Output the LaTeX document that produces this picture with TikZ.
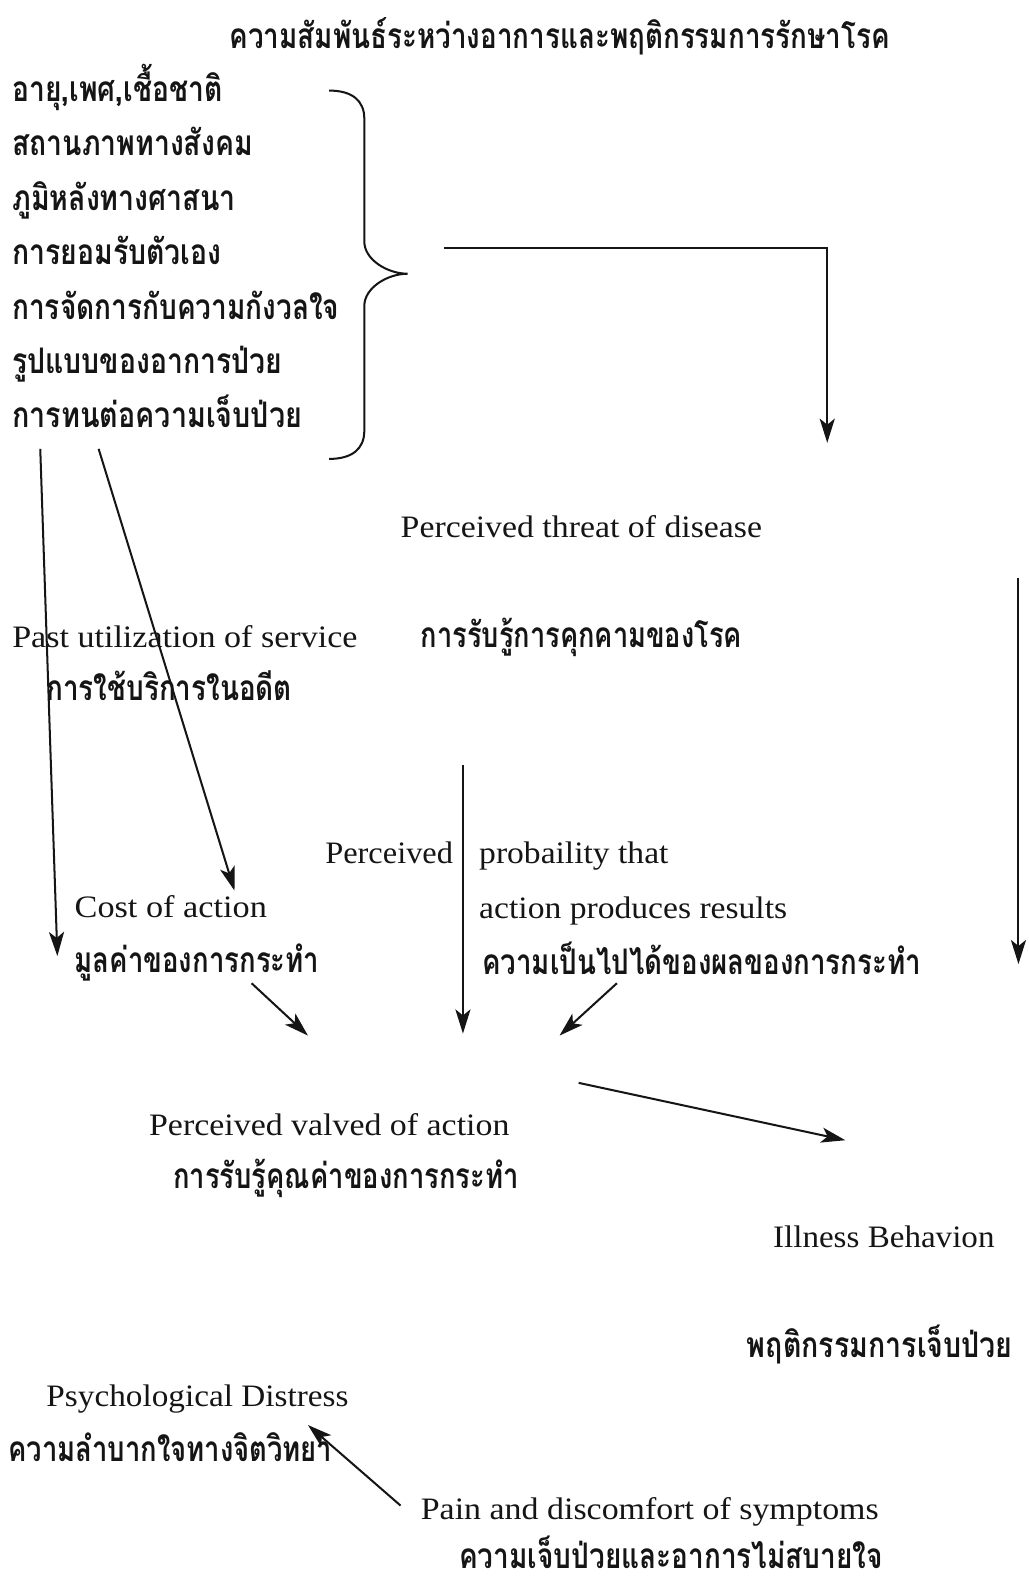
\documentclass[tikz,border=0pt]{standalone}
\usepackage{fontspec}
\setmainfont{Liberation Serif}
\newfontfamily\thaifont[Script=Thai]{Loma}
\usetikzlibrary{arrows.meta}
\newcommand{\fitw}[2]{\resizebox{#1pt}{\height}{#2}}
\definecolor{ink}{HTML}{151515}
\begin{document}
\begin{tikzpicture}[x=1pt,y=-1pt,
  en/.style={anchor=base west, inner sep=0pt, text=ink, font=\fontsize{31}{31}\selectfont},
  th/.style={anchor=base west, inner sep=0pt, text=ink, font=\thaifont\bfseries\fontsize{35}{35}\selectfont},
  arr/.style={draw=ink, line width=2pt, -{Stealth[length=24pt,width=15pt,inset=6pt]}},
  plain/.style={draw=ink, line width=2pt}]
\useasboundingbox[fill=white] (0,0) rectangle (1022,1568);

% title
\node[th] (title) at (228,48) {\fitw{656}{ความสัมพันธ์ระหว่างอาการและพฤติกรรมการรักษาโรค}};

% factor list
\node[th] (f1) at (12,101) {\fitw{209}{อายุ,เพศ,เชื้อชาติ}};
\node[th] (f2) at (12,155) {\fitw{239}{สถานภาพทางสังคม}};
\node[th] (f3) at (12,209) {\fitw{222}{ภูมิหลังทางศาสนา}};
\node[th] (f4) at (12,263) {\fitw{208}{การยอมรับตัวเอง}};
\node[th] (f5) at (12,317) {\fitw{325}{การจัดการกับความกังวลใจ}};
\node[th] (f6) at (12,371) {\fitw{268}{รูปแบบของอาการป่วย}};
\node[th] (f7) at (12,425) {\fitw{288}{การทนต่อความเจ็บป่วย}};

% brace
\draw[plain] (327,90) .. controls (350,90) and (362,100) .. (362,118) -- (362,240)
  .. controls (362,258) and (385,272) .. (405,272)
  .. controls (385,272) and (362,286) .. (362,304) -- (362,428)
  .. controls (362,446) and (350,456) .. (327,456);

% threat
\node[en] (threat) at (398,534) {\fitw{359}{Perceived threat of disease}};
\node[th] (threatth) at (418,643) {\fitw{319}{การรับรู้การคุกคามของโรค}};

% past utilization
\node[en] (past) at (12,643) {\fitw{343}{Past utilization of service}};
\node[th] (pastth) at (46,696) {\fitw{244}{การใช้บริการในอดีต}};

% cost
\node[en] (cost) at (74,912) {\fitw{191}{Cost of action}};
\node[th] (costth) at (74,966) {\fitw{243}{มูลค่าของการกระทำ}};

% probability
\node[en] (perc) at (323,858) {\fitw{127}{Perceived}};
\node[en] (prob1) at (476,858) {\fitw{188}{probaility that}};
\node[en] (prob2) at (476,913) {\fitw{306}{action produces results}};
\node[th] (probth) at (479,968) {\fitw{436}{ความเป็นไปได้ของผลของการกระทำ}};

% value
\node[en] (value) at (148,1128) {\fitw{358}{Perceived valved of action}};
\node[th] (valueth) at (172,1181) {\fitw{343}{การรับรู้คุณค่าของการกระทำ}};

% illness behaviour
\node[en] (ill) at (768,1240) {\fitw{220}{Illness Behavion}};
\node[th] (illth) at (742,1349) {\fitw{264}{พฤติกรรมการเจ็บป่วย}};

% distress
\node[en] (psy) at (46,1398) {\fitw{300}{Psychological Distress}};
\node[th] (psyth) at (8,1452) {\fitw{322}{ความลำบากใจทางจิตวิทยา}};

% pain
\node[en] (pain) at (418,1510) {\fitw{455}{Pain and discomfort of symptoms}};
\node[th] (painth) at (456,1559) {\fitw{421}{ความเจ็บป่วยและอาการไม่สบายใจ}};

% connector end points
\coordinate (b1) at (441,246);
\coordinate (b2) at (822,246);
\coordinate (b3) at (822,440);
\coordinate (l1) at (40,446);
\coordinate (l2) at (57,950);
\coordinate (d1) at (98,446);
\coordinate (d2) at (233,885);
\coordinate (c1) at (250,977);
\coordinate (c2) at (306,1029);
\coordinate (p1) at (460,760);
\coordinate (p2) at (460,1027);
\coordinate (q1) at (613,977);
\coordinate (q2) at (556,1029);
\coordinate (r1) at (1012,574);
\coordinate (r2) at (1012,958);
\coordinate (v1) at (575,1076);
\coordinate (v2) at (840,1133);
\coordinate (s1) at (398,1496);
\coordinate (s2) at (306,1416);

\draw[arr] (b1) -- (b2) -- (b3);
\draw[arr] (l1) -- (l2);
\draw[arr] (d1) -- (d2);
\draw[arr] (c1) -- (c2);
\draw[arr] (p1) -- (p2);
\draw[arr] (q1) -- (q2);
\draw[arr] (r1) -- (r2);
\draw[arr] (v1) -- (v2);
\draw[arr] (s1) -- (s2);
\end{tikzpicture}
\end{document}
